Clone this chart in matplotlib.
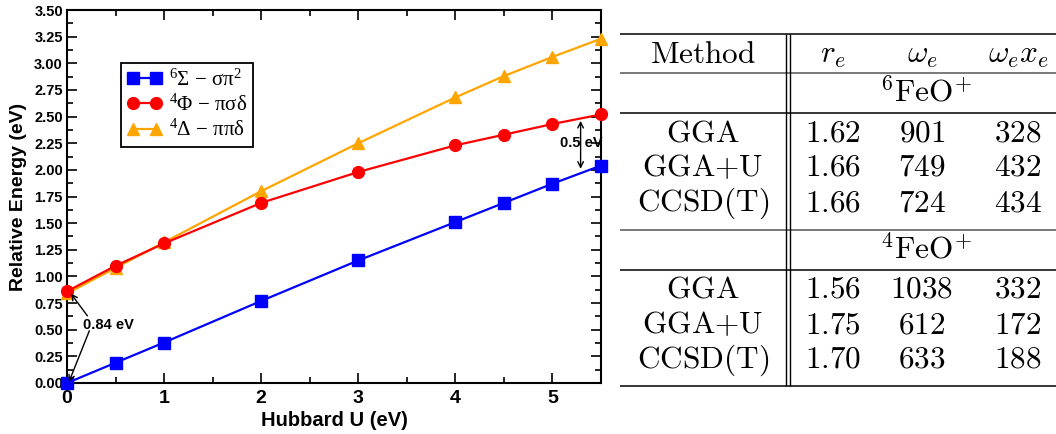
import matplotlib
matplotlib.use("Agg")
import matplotlib.pyplot as plt
from matplotlib.ticker import MultipleLocator, FormatStrFormatter

# Relative energies of the FeO+ states versus the Hubbard U parameter
hubbard_u = [0, 0.5, 1, 2, 3, 4, 4.5, 5, 5.5]
sigma_state = [0.00, 0.19, 0.38, 0.77, 1.15, 1.51, 1.69, 1.87, 2.04]
phi_state = [0.86, 1.10, 1.31, 1.69, 1.98, 2.23, 2.33, 2.43, 2.52]
delta_state = [0.84, 1.08, 1.32, 1.80, 2.25, 2.68, 2.88, 3.06, 3.23]

series_labels = [r'$^{6}$Σ − σπ$^{2}$', r'$^{4}$Φ − πσδ', r'$^{4}$Δ − ππδ']

# Spectroscopic constants table
methods = ['GGA', 'GGA{+}U', 'CCSD(T)']
column_heads = [r'$\mathrm{Method}$', r'$r_e$', r'$\omega_e$', r'$\omega_e x_e$']
sextet_title = r'$^{6}\mathrm{FeO}^{+}$'
quartet_title = r'$^{4}\mathrm{FeO}^{+}$'
sextet_re = [1.62, 1.66, 1.66]
sextet_we = [901, 749, 724]
sextet_wexe = [328, 432, 434]
quartet_re = [1.56, 1.75, 1.70]
quartet_we = [1038, 612, 633]
quartet_wexe = [332, 172, 188]

plt.rcParams['mathtext.fontset'] = 'custom'
plt.rcParams['mathtext.rm'] = 'Liberation Serif'
plt.rcParams['mathtext.it'] = 'Liberation Serif:italic'
plt.rcParams['mathtext.bf'] = 'Liberation Serif:bold'

W, H = 1056, 434
fig = plt.figure(figsize=(W / 100, H / 100), dpi=100)

# ---------------- energy plot ----------------
ax = fig.add_axes([67 / W, 1 - 383 / H, (601 - 67) / W, (383 - 10) / H])

ax.plot(hubbard_u, delta_state, color='#ffa500', lw=1.6, marker='^', ms=9,
        label=series_labels[2], zorder=3, clip_on=False)
ax.plot(hubbard_u, phi_state, color='#ff0000', lw=1.6, marker='o', ms=8.5,
        label=series_labels[1], zorder=4, clip_on=False)
ax.plot(hubbard_u, sigma_state, color='#0000ff', lw=1.6, marker='s', ms=8,
        label=series_labels[0], zorder=5, clip_on=False)

ax.set_xlim(0, 5.5)
ax.set_ylim(0, 3.5)
ax.xaxis.set_major_locator(MultipleLocator(1))
ax.xaxis.set_minor_locator(MultipleLocator(0.5))
ax.yaxis.set_major_locator(MultipleLocator(0.25))
ax.yaxis.set_minor_locator(MultipleLocator(0.125))
ax.yaxis.set_major_formatter(FormatStrFormatter('%.2f'))
ax.xaxis.set_major_formatter(FormatStrFormatter('%d'))

for s in ax.spines.values():
    s.set_linewidth(1.5)
ax.tick_params(which='both', direction='in', top=True, right=True, width=1.2)
ax.tick_params(which='major', length=7)
ax.tick_params(which='minor', length=4)
ax.tick_params(axis='y', which='major', pad=3)
ax.tick_params(axis='x', which='major', pad=5)

for lab in ax.get_yticklabels():
    lab.set_fontfamily('Liberation Sans')
    lab.set_fontweight('bold')
    lab.set_fontsize(10.5)
for lab in ax.get_xticklabels():
    lab.set_fontfamily('Liberation Sans')
    lab.set_fontweight('bold')
    lab.set_fontsize(14)

ax.set_xlabel('Hubbard U (eV)', fontfamily='Liberation Sans', fontweight='bold',
              fontsize=14.5, labelpad=3)
ax.set_ylabel('Relative Energy (eV)', fontfamily='Liberation Sans', fontweight='bold',
              fontsize=14, labelpad=5)

handles, labels = ax.get_legend_handles_labels()
order = [2, 1, 0]
leg = ax.legend([handles[i] for i in order], [labels[i] for i in order],
                loc='upper left', bbox_to_anchor=(0.101, 0.858), borderaxespad=0,
                numpoints=2, handlelength=1.7, handletextpad=0.3,
                labelspacing=0.2, borderpad=0.3, fancybox=False,
                edgecolor='black', framealpha=1,
                prop={'family': 'Liberation Serif', 'size': 15})
leg.get_frame().set_linewidth(1.3)

# energy-gap annotations
arrow_kw = dict(arrowstyle='->', color='black', lw=1.0, shrinkA=0, shrinkB=0)
ax.text(0.43, 0.545, '0.84 eV', fontfamily='Liberation Sans', fontweight='bold',
        fontsize=10.5, ha='center', va='center', zorder=6)
ax.annotate('', xy=(0.04, 0.84), xytext=(0.21, 0.63), arrowprops=arrow_kw, zorder=6)
ax.annotate('', xy=(0.02, 0.01), xytext=(0.23, 0.49), arrowprops=arrow_kw, zorder=6)

ax.annotate('', xy=(5.29, 2.46), xytext=(5.29, 2.01),
            arrowprops=dict(arrowstyle='<->', color='black', lw=1.0,
                            shrinkA=0, shrinkB=0), zorder=6)
ax.text(5.3, 2.25, '0.5 eV', fontfamily='Liberation Sans', fontweight='bold',
        fontsize=10.5, ha='center', va='center', zorder=7, clip_on=False)

# ---------------- table ----------------
tab = fig.add_axes([0, 0, 1, 1], zorder=-1)
tab.set_xlim(0, W)
tab.set_ylim(H, 0)
tab.axis('off')

col_x = [703, 833, 922, 1018]
x_left, x_right = 620, W
for y, c in [(34, 'black'), (73, '#555555'), (113, 'black'),
             (230, '#555555'), (270, 'black'), (386, 'black')]:
    tab.plot([x_left, x_right], [y, y], color=c, lw=1.1, solid_capstyle='butt')
for x in (786, 790):
    tab.plot([x, x], [34, 386], color='black', lw=1.0, solid_capstyle='butt')

tkw = dict(fontsize=22.5, ha='center', va='baseline', math_fontfamily='cm')
for x, head in zip(col_x, column_heads):
    tab.text(x, 63, head, **tkw)

tab.text(926, 102, sextet_title, **tkw)
tab.text(926, 259, quartet_title, **tkw)


def table_block(baselines, re, we, wexe):
    for y, m, a, b, c in zip(baselines, methods, re, we, wexe):
        tab.text(col_x[0], y, r'$\mathrm{%s}$' % m, **tkw)
        tab.text(col_x[1], y, r'$%.2f$' % a, **tkw)
        tab.text(col_x[2], y, r'$%d$' % b, **tkw)
        tab.text(col_x[3], y, r'$%d$' % c, **tkw)


table_block([141, 176, 211], sextet_re, sextet_we, sextet_wexe)
table_block([298, 333, 368], quartet_re, quartet_we, quartet_wexe)

fig.savefig('out.png', dpi=100)
